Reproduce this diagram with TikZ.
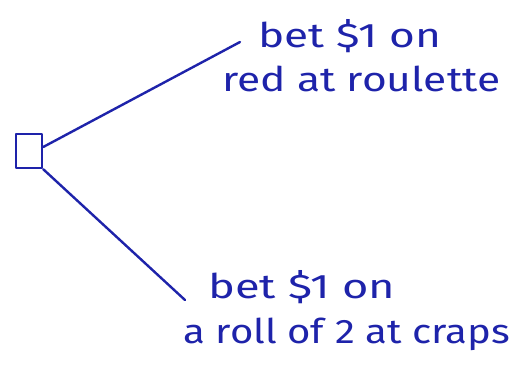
\documentclass[tikz,border=0pt]{standalone}
\usepackage{fontspec}
\setmainfont{Fira Sans}
\definecolor{ink}{RGB}{30,35,170}
\begin{document}
\begin{tikzpicture}[x=1pt,y=-1pt,
  ink line/.style={draw=ink,line width=2.4pt,line cap=round,line join=round},
  lbl/.style={text=ink,font=\fontsize{34}{40}\selectfont,anchor=base west,inner sep=0pt}]
\useasboundingbox (0,0) rectangle (513,365);
\node[ink line,minimum width=26pt,minimum height=34pt,inner sep=0pt] (dec) at (29,151) {};
\coordinate (e1) at (240,42);
\coordinate (e2) at (185,300);
\draw[ink line] (dec.east |- 0,147) -- (e1);
\draw[ink line] (dec.south east) -- (e2);
\node[lbl,xscale=1.3] (t1) at (258,47) {bet \$1 on};
\node[lbl,xscale=1.25] (t2) at (222,91) {red at roulette};
\node[lbl,xscale=1.33] (t3) at (208,298) {bet \$1 on};
\node[lbl,xscale=1.18] (t4) at (183,343) {a roll of 2 at craps};
\end{tikzpicture}
\end{document}
